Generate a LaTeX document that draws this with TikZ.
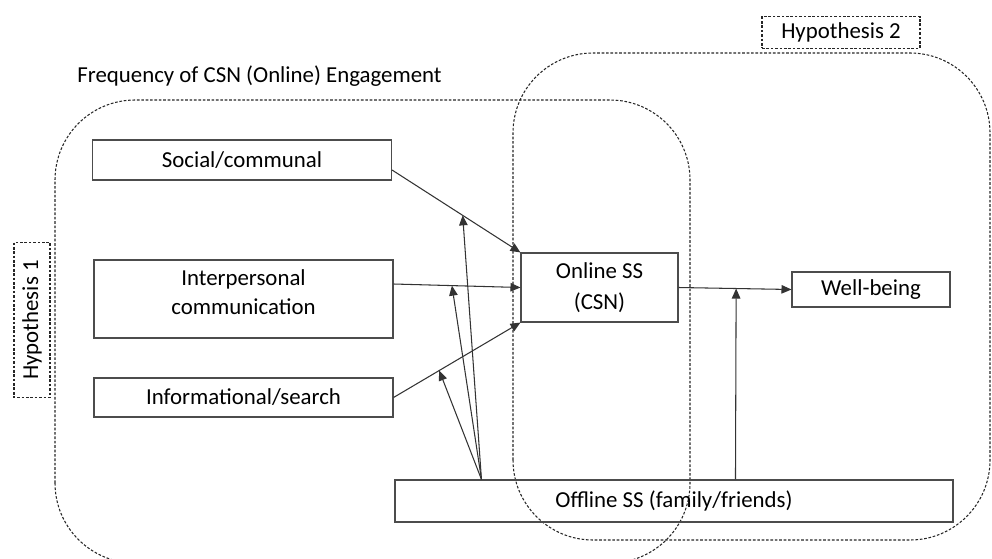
\documentclass[tikz,border=0pt]{standalone}
\usepackage{fontspec}
\setmainfont{Carlito}
\usetikzlibrary{arrows.meta}
\def\boxW{5.98cm}
\def\cornerR{1.6cm}

\begin{document}
\begin{tikzpicture}[
    >={Triangle[length=2mm,width=1.7mm]},
    line width=0.6pt,
    every node/.style={font=\fontsize{13}{16.5}\selectfont},
    box/.style={draw=black!70, rectangle, align=center, inner sep=0pt},
    hyp/.style={draw=black!85, dash pattern=on 1.5pt off 1pt, line width=0.6pt},
    link/.style={->, draw=black!80}
]
\useasboundingbox (0,0) rectangle (19.84,11.16);
\clip (0,0) rectangle (19.84,11.16);

% the two hypothesis regions
\draw[hyp, rounded corners=\cornerR] (1.1,-0.1) rectangle (13.8,9.16);
\draw[hyp, rounded corners=\cornerR] (10.26,0.36) rectangle (19.8,10.1);

\node[anchor=west] (ttl) at (1.42,9.64) {Frequency of CSN (Online) Engagement};
\node[hyp, minimum width=3.16cm, minimum height=0.62cm] (h2) at (16.82,10.51) {Hypothesis 2};
\node[hyp, rotate=90, minimum width=3.1cm, minimum height=0.72cm] (h1) at (0.64,4.76) {Hypothesis 1};

% boxes
\node[box, minimum width=\boxW, minimum height=0.8cm] (soc) at (4.84,7.96) {Social/communal};
\node[box, minimum width=\boxW, minimum height=1.56cm, text depth=0.28cm] (inter) at (4.87,5.18) {Interpersonal\\communication};
\node[box, minimum width=\boxW, minimum height=0.78cm] (info) at (4.87,3.21) {Informational/search};
\node[box, minimum width=3.14cm, minimum height=1.38cm] (onl) at (11.99,5.41) {Online SS\\[1pt](CSN)};
\node[box, minimum width=3.16cm, minimum height=0.7cm] (well) at (17.42,5.37) {Well-being};
\node[box, minimum width=11.16cm, minimum height=0.84cm] (off) at (13.48,1.14) {Offline SS (family/friends)};

% direct paths
\draw[link] ([yshift=-0.2cm]soc.east) -- coordinate[pos=0.55] (m1) (onl.north west);
\draw[link] ([yshift=0.3cm]inter.east) -- coordinate[pos=0.46] (m2) (onl.west);
\draw[link] (info.east) -- coordinate[pos=0.36] (m3) (onl.south west);
\draw[link] (onl.east) -- coordinate[pos=0.51] (m4) (well.west);

% moderation by offline support
\coordinate (o1) at ([xshift=1.74cm]off.north west);
\coordinate (o2) at ([xshift=6.82cm]off.north west);
\draw[link] (o1) -- (m1);
\draw[link] (o1) -- (m2);
\draw[link] (o1) -- (m3);
\draw[link] (o2) -- (m4);
\end{tikzpicture}
\end{document}
